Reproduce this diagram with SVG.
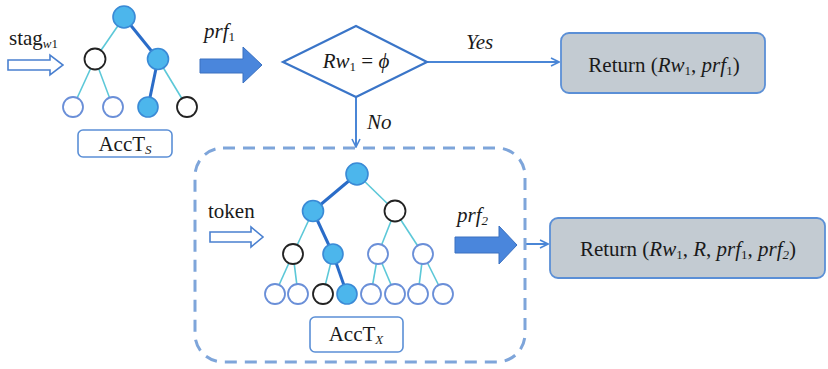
<svg xmlns="http://www.w3.org/2000/svg" width="828" height="369" viewBox="0 0 828 369">
<defs>
<style>
.t{font-family:"Liberation Serif","Times New Roman",serif;fill:#1a1a1a;font-size:21px;}
.i{font-style:italic;}
.s{font-size:13px;}
.e{stroke:#5cc8d8;stroke-width:1.6;fill:none;}
.E{stroke:#2a6cc8;stroke-width:3;fill:none;}
.f{fill:#4cb6ec;stroke:#3a8ad6;stroke-width:1.6;}
.h{fill:#fff;stroke:#6a8fd8;stroke-width:1.8;}
.k{fill:#fff;stroke:#222;stroke-width:1.8;}
.lbl{fill:#fff;stroke:#5b8fd6;stroke-width:1.6;}
.ret{fill:#c3cbd2;stroke:#5b8fd6;stroke-width:1.8;}
.ln{stroke:#4a86d6;stroke-width:2;fill:none;}
.hol{fill:#fff;stroke:#4a80d0;stroke-width:1.6;}
.big{fill:#4a86dc;stroke:#3a70c0;stroke-width:1;}
</style>
<marker id="ah" viewBox="0 0 10 10" refX="9" refY="5" markerWidth="5" markerHeight="5" orient="auto" markerUnits="strokeWidth">
<path d="M1,1 L9,5 L1,9" fill="none" stroke="#4a86d6" stroke-width="1.6"/>
</marker>
</defs>

<g id="connectors">
<line class="ln" x1="427" y1="62" x2="559" y2="62" marker-end="url(#ah)"/>
<line class="ln" x1="356" y1="97" x2="356" y2="147" marker-end="url(#ah)"/>
<line class="ln" x1="526" y1="244" x2="548" y2="244" marker-end="url(#ah)"/>
</g>

<g id="input-stag">
<text class="t" x="9" y="45">stag<tspan class="s" dy="3"><tspan class="i">w</tspan>1</tspan></text>
<path class="hol" d="M8,60 H50 V55 L63,65 L50,75 V70 H8 Z"/>
</g>

<g id="tree-s">
<line class="e" x1="124" y1="17" x2="95" y2="59"/>
<line class="E" x1="124" y1="17" x2="158" y2="59"/>
<line class="e" x1="95" y1="59" x2="73" y2="107"/>
<line class="e" x1="95" y1="59" x2="113" y2="107"/>
<line class="E" x1="158" y1="59" x2="148" y2="107"/>
<line class="e" x1="158" y1="59" x2="187" y2="107"/>
<circle class="f" cx="124" cy="17" r="11"/>
<circle class="k" cx="95" cy="59" r="10.5"/>
<circle class="f" cx="158" cy="59" r="10.5"/>
<circle class="h" cx="73" cy="107" r="10"/>
<circle class="h" cx="113" cy="107" r="10"/>
<circle class="f" cx="148" cy="107" r="10"/>
<circle class="k" cx="187" cy="107" r="10"/>
<rect class="lbl" x="78" y="130" width="94" height="27" rx="5"/>
<text class="t" x="125" y="151" text-anchor="middle">AccT<tspan class="i s" dy="3">S</tspan></text>
</g>

<g id="prf1">
<text class="t i" x="204" y="38">prf<tspan class="s" dy="3" font-style="normal">1</tspan></text>
<path class="big" d="M200,59 H243 V47 L262,65 L243,83 V73 H200 Z"/>
</g>

<g id="decision">
<path d="M283,62 L356,26 L427,62 L356,97 Z" fill="#fff" stroke="#3a75c8" stroke-width="2.2"/>
<text class="t i" x="356" y="68" text-anchor="middle">Rw<tspan class="s" dy="3" font-style="normal">1</tspan><tspan dy="-3" font-style="normal"> = </tspan>ϕ</text>
</g>

<text class="t i" x="466" y="49">Yes</text>
<text class="t i" x="367" y="129">No</text>

<g id="return1">
<rect class="ret" x="561" y="33" width="204" height="60" rx="8"/>
<text class="t" x="664" y="72" text-anchor="middle">Return (<tspan class="i">Rw</tspan><tspan class="s" dy="3">1</tspan><tspan dy="-3">, </tspan><tspan class="i">prf</tspan><tspan class="s" dy="3">1</tspan><tspan dy="-3">)</tspan></text>
</g>

<g id="group-x">
<rect x="195" y="148" width="330" height="214" rx="28" fill="none" stroke="#7ea5da" stroke-width="3" stroke-dasharray="12,8"/>
</g>

<g id="input-token">
<text class="t" x="208" y="218">token</text>
<path class="hol" d="M210,232 H251 V227 L263,237 L251,247 V242 H210 Z"/>
</g>

<g id="tree-x">
<line class="E" x1="357" y1="174" x2="313" y2="211"/>
<line class="e" x1="357" y1="174" x2="395" y2="211"/>
<line class="e" x1="313" y1="211" x2="293" y2="254"/>
<line class="E" x1="313" y1="211" x2="333" y2="254"/>
<line class="e" x1="395" y1="211" x2="378" y2="254"/>
<line class="e" x1="395" y1="211" x2="423" y2="254"/>
<line class="e" x1="293" y1="254" x2="275" y2="294"/>
<line class="e" x1="293" y1="254" x2="298" y2="294"/>
<line class="e" x1="333" y1="254" x2="323" y2="294"/>
<line class="E" x1="333" y1="254" x2="347" y2="294"/>
<line class="e" x1="378" y1="254" x2="371" y2="294"/>
<line class="e" x1="378" y1="254" x2="395" y2="294"/>
<line class="e" x1="423" y1="254" x2="418" y2="294"/>
<line class="e" x1="423" y1="254" x2="443" y2="294"/>
<circle class="f" cx="357" cy="174" r="11"/>
<circle class="f" cx="313" cy="211" r="10.5"/>
<circle class="k" cx="395" cy="211" r="10.5"/>
<circle class="k" cx="293" cy="254" r="10"/>
<circle class="f" cx="333" cy="254" r="10"/>
<circle class="h" cx="378" cy="254" r="10"/>
<circle class="h" cx="423" cy="254" r="10"/>
<circle class="h" cx="275" cy="294" r="10"/>
<circle class="h" cx="298" cy="294" r="10"/>
<circle class="k" cx="323" cy="294" r="10"/>
<circle class="f" cx="347" cy="294" r="10"/>
<circle class="h" cx="371" cy="294" r="10"/>
<circle class="h" cx="395" cy="294" r="10"/>
<circle class="h" cx="418" cy="294" r="10"/>
<circle class="h" cx="443" cy="294" r="10"/>
<rect class="lbl" x="310" y="317" width="93" height="35" rx="5"/>
<text class="t" x="356" y="341" text-anchor="middle">AccT<tspan class="i s" dy="3">X</tspan></text>
</g>

<g id="prf2">
<text class="t i" x="457" y="222">prf<tspan class="s" dy="3">2</tspan></text>
<path class="big" d="M455,237 H499 V226 L517,245 L499,264 V253 H455 Z"/>
</g>

<g id="return2">
<rect class="ret" x="550" y="218" width="275" height="60" rx="8"/>
<text class="t" x="688" y="256" text-anchor="middle" font-size="22">Return (<tspan class="i">Rw</tspan><tspan class="s" dy="3">1</tspan><tspan dy="-3">, </tspan><tspan class="i">R</tspan>, <tspan class="i">prf</tspan><tspan class="s" dy="3">1</tspan><tspan dy="-3">, </tspan><tspan class="i">prf</tspan><tspan class="s i" dy="3">2</tspan><tspan dy="-3">)</tspan></text>
</g>
</svg>
